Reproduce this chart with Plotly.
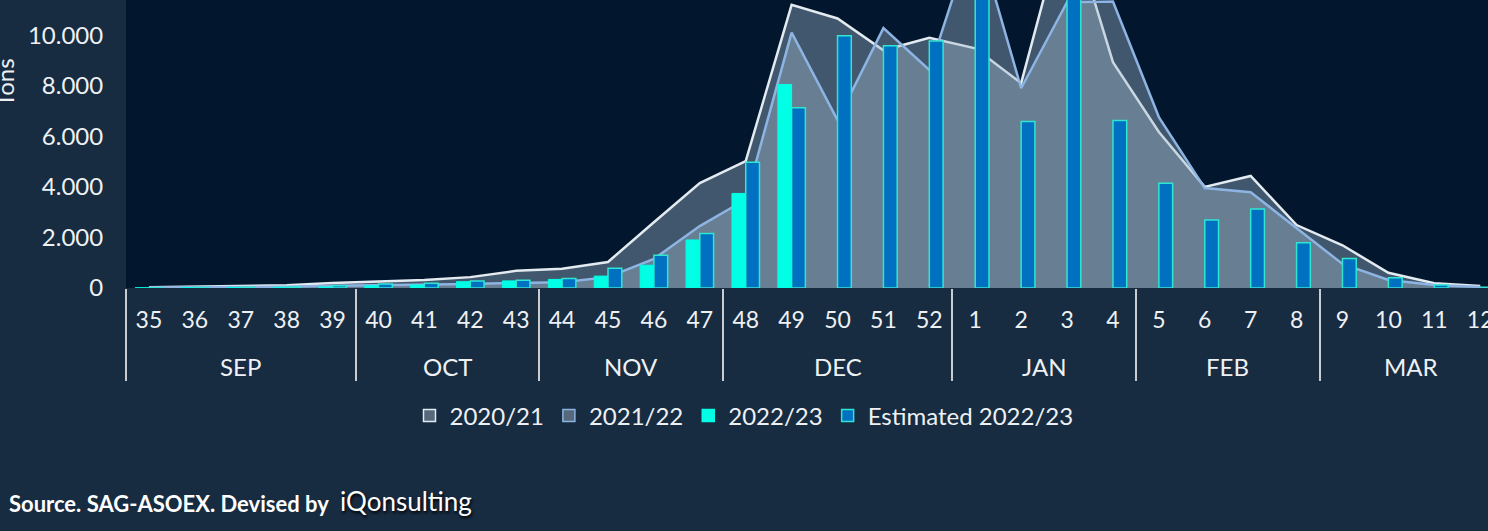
import plotly.graph_objects as go

# ---------------- data ----------------
weeks = ["35", "36", "37", "38", "39", "40", "41", "42", "43", "44", "45", "46", "47",
         "48", "49", "50", "51", "52", "1", "2", "3", "4", "5", "6", "7", "8", "9", "10", "11", "12"]
month_of_week = (["SEP"] * 5 + ["OCT"] * 4 + ["NOV"] * 4 + ["DEC"] * 5 +
                 ["JAN"] * 4 + ["FEB"] * 4 + ["MAR"] * 4)

season_2020_21 = [30, 50, 80, 110, 200, 260, 320, 430, 680, 760, 1030, 2600, 4150,
                  5020, 11200, 10660, 9400, 9900, 9480, 8100, 14900, 8930, 6170, 4000,
                  4430, 2490, 1690, 600, 190, 80]
season_2021_22 = [20, 30, 40, 50, 90, 110, 130, 160, 200, 230, 430, 1150, 2450,
                  3500, 10100, 6640, 10280, 8620, 14200, 7900, 11300, 11330, 6760, 3950,
                  3790, 2370, 950, 320, 120, 40]
season_2022_23 = [10, 15, 20, 25, 40, 90, 120, 250, 280, 340, 470, 900, 1900,
                  3740, 8050, None, None, None, None, None, None, None, None, None,
                  None, None, None, None, None, None]
estimated_2022_23 = [10, 20, 30, 40, 90, 160, 190, 280, 310, 380, 780, 1300, 2160,
                     4970, 7130, 9980, 9580, 9770, 12800, 6580, 12300, 6620, 4140, 2690,
                     3120, 1790, 1170, 410, 120, 30]
y_ticks = [0, 2000, 4000, 6000, 8000, 10000]

# ---------------- styling ----------------
PAGE_BG = "#172b41"
PLOT_BG = "#02172d"
WHITE_LINE = "#e3ebf1"
BLUE_LINE = "#8db4e2"
AREA_FILL = "rgba(160,184,206,0.40)"
CYAN = "#00ffe4"
EST_BLUE = "#0070c0"
EST_EDGE = "#2fe6d3"
TXT = "#eef1f4"
FONT = "Lato"

X_RANGE = [-0.5, 29.17]
PLOT_TOP_PX, AXIS_PX = 0, 288
H = 531

def py(px):
    """pixel row -> paper y (plot area spans rows 0..288)"""
    return (AXIS_PX - px) / (AXIS_PX - PLOT_TOP_PX)

def px_x(px):
    return (px - 126) / (1488 - 126)

fig = go.Figure()

# areas
fig.add_trace(go.Scatter(x=weeks, y=season_2020_21, name="2020/21", mode="lines",
                         fill="tozeroy", fillcolor=AREA_FILL,
                         line=dict(color=WHITE_LINE, width=2.5), showlegend=False,
                         hoverinfo="skip"))
fig.add_trace(go.Scatter(x=weeks, y=season_2021_22, name="2021/22", mode="lines",
                         fill="tozeroy", fillcolor=AREA_FILL,
                         line=dict(color=BLUE_LINE, width=2.5), showlegend=False,
                         hoverinfo="skip"))

# bars (on top)
fig.add_trace(go.Bar(x=weeks, y=season_2022_23, name="2022/23",
                     marker=dict(color=CYAN, line=dict(color=CYAN, width=1)),
                     zorder=2, showlegend=False))
fig.add_trace(go.Bar(x=weeks, y=estimated_2022_23, name="Estimated 2022/23",
                     marker=dict(color=EST_BLUE, line=dict(color=EST_EDGE, width=1.5)),
                     zorder=2, showlegend=False))

# legend-only entries (on the divider axis, no data)
legend_items = [("2020/21", "#56687a", WHITE_LINE),
                ("2021/22", "#56687a", BLUE_LINE),
                ("2022/23", CYAN, CYAN),
                ("Estimated 2022/23", EST_BLUE, EST_EDGE)]
for i, (nm, fc, lc) in enumerate(legend_items):
    fig.add_trace(go.Bar(x=[None], y=[None], name=nm, xaxis="x2",
                         marker=dict(color=fc, line=dict(color=lc, width=1.5)),
                         legendrank=i + 1, showlegend=True))

# month groups -> boundaries and centres
groups = []
for i, m in enumerate(month_of_week):
    if not groups or groups[-1][0] != m:
        groups.append([m, i, i])
    else:
        groups[-1][2] = i
boundaries = [g[1] - 0.5 for g in groups]

annotations = []
for m, a, b in groups:
    annotations.append(dict(x=(a + b) / 2, y=py(366), xref="x", yref="paper",
                            xanchor="center", yanchor="middle",
                            text=m, showarrow=False,
                            font=dict(size=24, color=TXT, family=FONT)))

annotations.append(dict(x=px_x(4), y=py(83), xref="paper", yref="paper", text="Tons",
                        textangle=-90, showarrow=False, xanchor="center", yanchor="middle",
                        font=dict(size=24, color=TXT, family=FONT)))
annotations.append(dict(x=px_x(7), y=py(503), xref="paper", yref="paper",
                        xanchor="left", yanchor="middle",
                        text="Source. SAG-ASOEX. Devised by", showarrow=False,
                        font=dict(size=22, color="#ffffff", family=FONT, weight="bold")))
annotations.append(dict(x=px_x(338), y=py(501), xref="paper", yref="paper",
                        xanchor="left", yanchor="middle",
                        text="iQonsulting", showarrow=False,
                        font=dict(size=26, color="#ffffff", family=FONT,
                                  shadow="1px 2px 3px #000000")))

fig.update_layout(
    width=1488, height=H,
    paper_bgcolor=PAGE_BG, plot_bgcolor=PLOT_BG,
    margin=dict(l=126, r=0, t=0, b=H - AXIS_PX, autoexpand=False),
    barmode="group", bargap=0.4, bargroupgap=0,
    separators=",.",
    font=dict(family=FONT, color=TXT, size=22),
    xaxis=dict(type="category", categoryorder="array", categoryarray=weeks,
               range=X_RANGE, showline=True, linecolor="#d3d6da", linewidth=2,
               ticks="outside", ticklen=10, tickcolor="rgba(0,0,0,0)",
               tickfont=dict(size=23, color=TXT, family=FONT),
               showgrid=False, zeroline=False, fixedrange=True),
    xaxis2=dict(overlaying="x", anchor="y", side="bottom", type="linear",
                range=X_RANGE, tickvals=boundaries, ticks="outside", ticklen=92,
                tickwidth=2, tickcolor="#c9ccd0", showticklabels=False,
                showgrid=False, zeroline=False, showline=False),
    yaxis=dict(range=[0, 11390], tickvals=y_ticks, tickformat=",d",
               ticks="outside", ticklen=17, tickcolor="rgba(0,0,0,0)",
               tickfont=dict(size=24, color=TXT, family=FONT),
               showgrid=False, zeroline=False, showline=False),
    legend=dict(orientation="h", xref="container", yref="container",
                x=0.5, xanchor="center", y=(H - 416) / H, yanchor="middle",
                font=dict(size=24, color=TXT, family=FONT),
                bgcolor="rgba(0,0,0,0)", itemwidth=30, traceorder="normal"),
    annotations=annotations,
    showlegend=True,
)

fig.write_html("out.html",
               config={"displayModeBar": False},
               post_script="document.body.style.margin='0';document.body.style.overflow='hidden';")
